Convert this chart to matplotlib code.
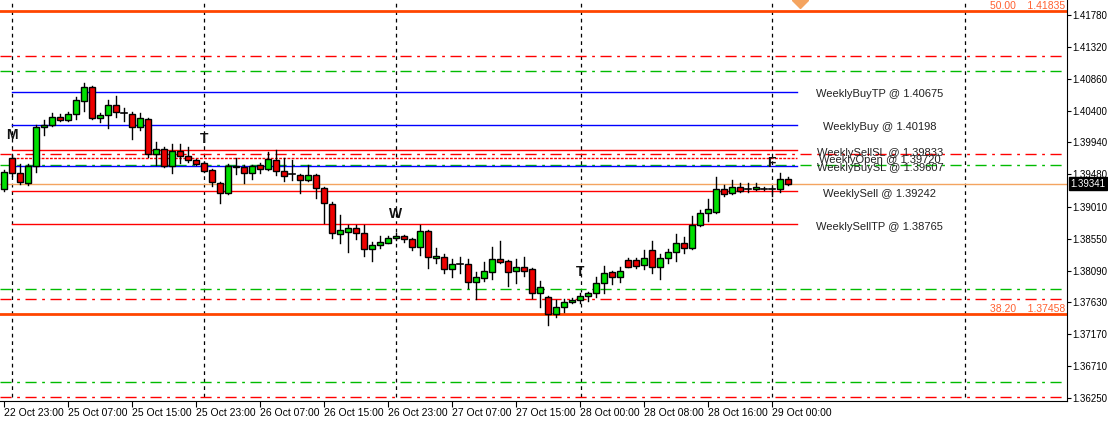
import matplotlib
matplotlib.use("Agg")
import matplotlib.pyplot as plt
import numpy as np

# H1 candles
opens = [1.39268, 1.39715, 1.39499, 1.39355, 1.39600, 1.40163, 1.40192, 1.40308, 1.40264, 1.40351,
         1.40539, 1.40741, 1.40293, 1.40337, 1.40481, 1.40366, 1.40351, 1.40163, 1.40279, 1.39773,
         1.39845, 1.39600, 1.39817, 1.39744, 1.39687, 1.39643, 1.39542, 1.39355, 1.39210, 1.39600,
         1.39586, 1.39499, 1.39615, 1.39557, 1.39687, 1.39528, 1.39484, 1.39470, 1.39398, 1.39470,
         1.39282, 1.39051, 1.38618, 1.38647, 1.38704, 1.38633, 1.38401, 1.38459, 1.38488, 1.38560,
         1.38589, 1.38546, 1.38430, 1.38662, 1.38271, 1.38286, 1.38113, 1.38185, 1.38185, 1.37925,
         1.37983, 1.38069, 1.38257, 1.38229, 1.38084, 1.38142, 1.38113, 1.37766, 1.37708, 1.37463,
         1.37564, 1.37636, 1.37665, 1.37723, 1.37766, 1.37911, 1.38069, 1.37997, 1.38243, 1.38243,
         1.38171, 1.38387, 1.38142, 1.38271, 1.38358, 1.38488, 1.38416, 1.38748, 1.38922, 1.38936,
         1.39268, 1.39210, 1.39297, 1.39268, 1.39268, 1.39268, 1.39268, 1.39268, 1.39412]
highs = [1.39542, 1.39759, 1.39629, 1.39629, 1.40192, 1.40264, 1.40366, 1.40351, 1.40380, 1.40596,
         1.40799, 1.40755, 1.40366, 1.40553, 1.40610, 1.40437, 1.40380, 1.40366, 1.40293, 1.39946,
         1.39874, 1.39917, 1.39917, 1.39874, 1.39701, 1.39658, 1.39557, 1.39369, 1.39629, 1.39715,
         1.39615, 1.39615, 1.39643, 1.39802, 1.39831, 1.39715, 1.39687, 1.39484, 1.39615, 1.39484,
         1.39297, 1.39080, 1.38893, 1.38748, 1.38748, 1.38748, 1.38502, 1.38589, 1.38589, 1.38633,
         1.38604, 1.38560, 1.38748, 1.38676, 1.38416, 1.38329, 1.38257, 1.38286, 1.38257, 1.38069,
         1.38214, 1.38430, 1.38517, 1.38243, 1.38257, 1.38286, 1.38127, 1.37940, 1.37723, 1.37665,
         1.37679, 1.37694, 1.37766, 1.37780, 1.37997, 1.38156, 1.38084, 1.38142, 1.38271, 1.38271,
         1.38387, 1.38517, 1.38329, 1.38401, 1.38618, 1.38575, 1.38878, 1.38965, 1.39123, 1.39441,
         1.39326, 1.39398, 1.39355, 1.39355, 1.39355, 1.39297, 1.39297, 1.39499, 1.39441]
lows = [1.39239, 1.39455, 1.39340, 1.39326, 1.39513, 1.40048, 1.40177, 1.40250, 1.40250, 1.40279,
        1.40395, 1.40279, 1.40235, 1.40148, 1.40308, 1.40250, 1.39990, 1.40120, 1.39730, 1.39615,
        1.39586, 1.39499, 1.39643, 1.39658, 1.39615, 1.39513, 1.39311, 1.39066, 1.39196, 1.39484,
        1.39355, 1.39412, 1.39499, 1.39542, 1.39470, 1.39384, 1.39398, 1.39210, 1.39384, 1.39138,
        1.38777, 1.38560, 1.38488, 1.38358, 1.38546, 1.38300, 1.38229, 1.38416, 1.38488, 1.38531,
        1.38502, 1.38387, 1.38315, 1.38127, 1.38200, 1.38055, 1.37997, 1.38055, 1.37838, 1.37679,
        1.37940, 1.37968, 1.38200, 1.37867, 1.37911, 1.38011, 1.37694, 1.37564, 1.37304, 1.37420,
        1.37492, 1.37622, 1.37622, 1.37651, 1.37708, 1.37766, 1.37896, 1.37925, 1.38142, 1.38127,
        1.38113, 1.38055, 1.37968, 1.38200, 1.38229, 1.38344, 1.38401, 1.38733, 1.38806, 1.38922,
        1.39167, 1.39196, 1.39224, 1.39224, 1.39253, 1.39253, 1.39167, 1.39224, 1.39326]
closes = [1.39513, 1.39499, 1.39369, 1.39600, 1.40163, 1.40192, 1.40308, 1.40264, 1.40351, 1.40553,
          1.40741, 1.40293, 1.40337, 1.40481, 1.40380, 1.40366, 1.40163, 1.40293, 1.39773, 1.39845,
          1.39600, 1.39817, 1.39744, 1.39687, 1.39629, 1.39528, 1.39369, 1.39210, 1.39600, 1.39586,
          1.39499, 1.39600, 1.39557, 1.39701, 1.39528, 1.39455, 1.39484, 1.39398, 1.39470, 1.39282,
          1.39066, 1.38633, 1.38676, 1.38704, 1.38633, 1.38401, 1.38459, 1.38502, 1.38560, 1.38589,
          1.38546, 1.38430, 1.38662, 1.38286, 1.38300, 1.38113, 1.38185, 1.38185, 1.37925, 1.37997,
          1.38084, 1.38257, 1.38214, 1.38069, 1.38142, 1.38084, 1.37766, 1.37853, 1.37463, 1.37564,
          1.37636, 1.37665, 1.37723, 1.37766, 1.37911, 1.38055, 1.37997, 1.38084, 1.38142, 1.38156,
          1.38271, 1.38142, 1.38271, 1.38358, 1.38488, 1.38416, 1.38748, 1.38922, 1.38979, 1.39268,
          1.39196, 1.39297, 1.39239, 1.39268, 1.39297, 1.39268, 1.39268, 1.39412, 1.39340]

# weekly levels (name, price, colour, style)
weekly = [("WeeklyBuyTP", 1.40675, "#0000ff", "-"),
          ("WeeklyBuy", 1.40198, "#0000ff", "-"),
          ("WeeklySellSL", 1.39833, "#ff0000", "-"),
          ("WeeklyOpen", 1.39720, "#ff0000", (0, (2, 1))),
          ("WeeklyBuySL", 1.39607, "#0000ff", "-"),
          ("WeeklySell", 1.39242, "#ff0000", "-"),
          ("WeeklySellTP", 1.38765, "#ff0000", "-")]
dashdot_lines = [(1.41188, "#ff0000"), (1.40972, "#00bb00"), (1.39773, "#ff0000"),
                 (1.39615, "#00bb00"), (1.37824, "#00bb00"), (1.37679, "#ff0000"),
                 (1.36481, "#00bb00"), (1.36264, "#ff0000")]
fibo = [("50.00", 1.41835), ("38.20", 1.37458)]
bid = 1.39341
period_seps = [1, 25, 49, 72.1, 96, 120.1]
letters = [("M", 1, 1.40048), ("T", 25, 1.39990), ("W", 49, 1.38907),
           ("T", 72, 1.38069), ("F", 96, 1.39644)]
xtick_pos = [0, 8, 16, 24, 32, 40, 48, 56, 64, 72, 80, 88, 96]
xtick_labels = ["22 Oct 23:00", "25 Oct 07:00", "25 Oct 15:00", "25 Oct 23:00", "26 Oct 07:00",
                "26 Oct 15:00", "26 Oct 23:00", "27 Oct 07:00", "27 Oct 15:00", "28 Oct 00:00",
                "28 Oct 08:00", "28 Oct 16:00", "29 Oct 00:00"]
ytick_vals = [1.41780, 1.41320, 1.40860, 1.40400, 1.39940, 1.39480, 1.39010,
              1.38550, 1.38090, 1.37630, 1.37170, 1.36710, 1.36250]

plt.rcParams['font.family'] = ['Liberation Sans', 'DejaVu Sans']
fig = plt.figure(figsize=(11.08, 4.21), dpi=100)
ax = fig.add_axes([0, 20 / 421, 1067 / 1108, 401 / 421])
ax.set_xlim(-0.5, 132.9)
ax.set_ylim(1.36207, 1.41997)

for x in period_seps:
    ax.axvline(x, ymin=0.01, color="black", lw=0.9, ls=(0, (3, 3)), zorder=1)

for price, col in dashdot_lines:
    ax.axhline(price, color=col, lw=1, ls=(0, (8, 4, 2, 4)), zorder=2)
for name, price in fibo:
    ax.axhline(price, color="#ff4500", lw=2, zorder=2)
    ax.text(132.7, price, f"{name}    {price:.5f}", color="#ff6030", fontsize=7.5,
            ha="right", va="bottom")
ax.axhline(bid, color="#f4a460", lw=1, zorder=2)

for name, price, col, ls in weekly:
    ax.plot([1, 99.1], [price, price], color=col, lw=1, ls=ls, zorder=2)
    ax.annotate(f"{name} @ {price:.5f}", (109.5, price), xytext=(0, -2),
                textcoords="offset points", ha="center", va="center",
                fontsize=8, color="#222222")

body_w = 0.7
for i in range(len(opens)):
    o, h, l, c = opens[i], highs[i], lows[i], closes[i]
    ax.plot([i, i], [l, h], color="black", lw=1, zorder=3)
    if abs(c - o) < 1e-5:
        ax.plot([i - body_w / 2, i + body_w / 2], [o, o], color="black", lw=1.2, zorder=4)
        continue
    col = "#00e000" if c > o else "#ee0000"
    ax.add_patch(plt.Rectangle((i - body_w / 2, min(o, c)), body_w, abs(c - o),
                               facecolor=col, edgecolor="black", lw=1, zorder=4))

for ch, x, price in letters:
    ax.text(x, price, ch, fontsize=10, fontweight="bold", ha="center", va="center",
            color="#111111", zorder=5)

ax.plot([99.5], [1.41997], marker="D", color="#f4a460", ms=8, clip_on=True, zorder=5)

ax.yaxis.tick_right()
ax.set_yticks(ytick_vals)
ax.set_yticklabels([f"{v:.5f}" for v in ytick_vals], fontsize=7)
ax.set_xticks(xtick_pos)
ax.set_xticklabels(xtick_labels, fontsize=7.5, ha="left")
ax.tick_params(axis="x", length=4, pad=1)
ax.tick_params(axis="y", length=3, pad=1)
ax.spines["top"].set_visible(False)
ax.spines["left"].set_visible(False)

ax.text(1.003, (bid - 1.36207) / (1.41997 - 1.36207), f"{bid:.5f}", transform=ax.transAxes,
        fontsize=7, color="white", va="center", ha="left",
        bbox=dict(boxstyle="square,pad=0.15", fc="black", ec="black"))

fig.savefig("out.png", dpi=100)
